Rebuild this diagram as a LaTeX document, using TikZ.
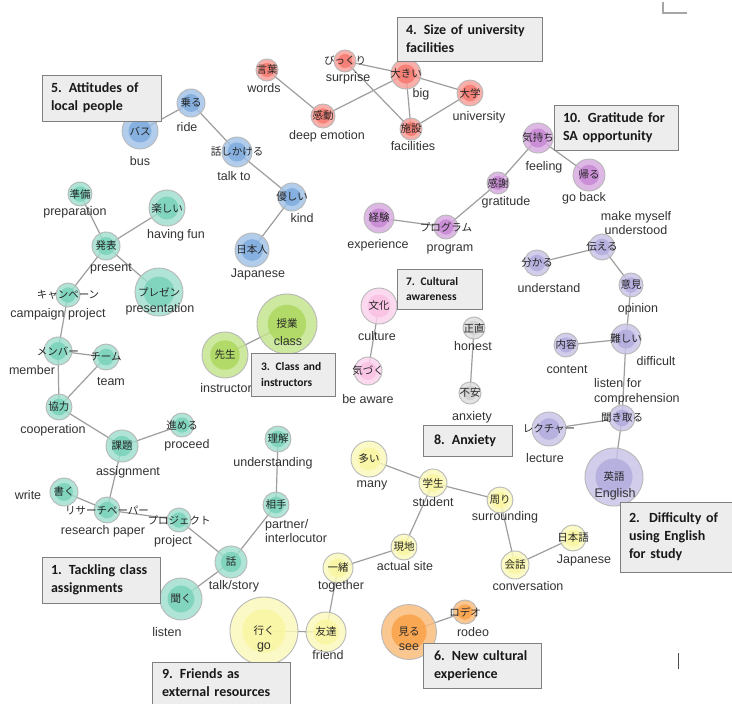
\documentclass[tikz,border=0pt]{standalone}
\usepackage{fontspec}
\setmainfont{Liberation Sans}
\newfontfamily\jpfont{Noto Sans CJK JP}
\newfontfamily\boxfont{Carlito}

\definecolor{cteal}{RGB}{120,210,185}
\definecolor{cblue}{RGB}{125,170,222}
\definecolor{cred}{RGB}{245,120,110}
\definecolor{cpurple}{RGB}{200,135,212}
\definecolor{clav}{RGB}{178,172,222}
\definecolor{cpink}{RGB}{250,192,228}
\definecolor{cgray}{RGB}{208,208,208}
\definecolor{cyellow}{RGB}{250,246,160}
\definecolor{corange}{RGB}{250,160,70}
\definecolor{clime}{RGB}{172,216,92}

\pgfdeclarelayer{edges}
\pgfsetlayers{edges,main}

\tikzset{
  word/.style 2 args={circle, inner sep=0pt, minimum size=#1pt, draw=black!28,
    line width=0.9pt, fill=#2!72, fill opacity=0.82,
    path picture={\fill[#2] (path picture bounding box.center) circle[radius=0.32*#1pt];}},
  jp/.style={font=\jpfont\fontsize{10.5}{12}\selectfont, text=black!85,
    text opacity=1, inner sep=0pt},
  en/.style={font=\fontsize{12.5}{14.5}\selectfont, text=black!80, inner sep=0pt, align=center},
  link/.style={draw=black!38, line width=1.2pt},
  theme/.style={draw=black!50, fill=black!7, line width=0.9pt, inner xsep=9pt,
    inner ysep=0pt, align=left, text=black!90,
    execute at begin node={\hyphenpenalty=10000},
    font=\boxfont\bfseries\fontsize{14}{18}\selectfont},
  smalltheme/.style={theme, font=\boxfont\bfseries\fontsize{11.5}{15.5}\selectfont}
}

\begin{document}
\begin{tikzpicture}[x=1pt,y=-1pt]
\useasboundingbox (0,0) rectangle (732,704);

% 5. attitudes of local people
\node[word={36}{cblue},label={[jp]center:バス}] (bus) at (140,131) {};
\node[word={28}{cblue},label={[jp]center:乗る}] (ride) at (191,103) {};
\node[word={30}{cblue},label={[jp]center:話しかける}] (talkto) at (237,152) {};
\node[word={28}{cblue},label={[jp]center:優しい}] (kind) at (292,197) {};
\node[word={34}{cblue},label={[jp]center:日本人}] (japanese) at (252,250) {};
\node[en] (busL) at (140,161) {bus};
\node[en] (rideL) at (187,127) {ride};
\node[en] (talktoL) at (234,176) {talk to};
\node[en] (kindL) at (302,218) {kind};
\node[en] (japaneseL) at (258,274) {Japanese};

% 4. size of university facilities
\node[word={22}{cred},label={[jp]center:言葉}] (words) at (267,70) {};
\node[word={24}{cred},label={[jp]center:感動}] (emotion) at (323,116) {};
\node[word={22}{cred},label={[jp]center:びっくり}] (surprise) at (345,61) {};
\node[word={30}{cred},label={[jp]center:大きい}] (big) at (406,74) {};
\node[word={26}{cred},label={[jp]center:大学}] (univ) at (470,93) {};
\node[word={22}{cred},label={[jp]center:施設}] (facil) at (411,129) {};
\node[en] (wordsL) at (264,88) {words};
\node[en] (emotionL) at (327,136) {deep emotion};
\node[en] (surpriseL) at (348,78) {surprise};
\node[en] (bigL) at (421,94) {big};
\node[en] (univL) at (479,117) {university};
\node[en] (facilL) at (413,146) {facilities};

% 10. gratitude for SA opportunity
\node[word={30}{cpurple},label={[jp]center:気持ち}] (feeling) at (538,138) {};
\node[word={32}{cpurple},label={[jp]center:帰る}] (goback) at (589,175) {};
\node[word={22}{cpurple},label={[jp]center:感謝}] (gratitude) at (498,183) {};
\node[word={24}{cpurple},label={[jp]center:プログラム}] (program) at (446,227) {};
\node[word={30}{cpurple},label={[jp]center:経験}] (experience) at (379,218) {};
\node[en] (feelingL) at (544,167) {feeling};
\node[en] (gobackL) at (584,198) {go back};
\node[en] (gratitudeL) at (506,202) {gratitude};
\node[en] (programL) at (450,249) {program};
\node[en] (experienceL) at (378,245) {experience};

% 2. difficulty of using English
\node[word={26}{clav},label={[jp]center:伝える}] (convey) at (602,247) {};
\node[word={26}{clav},label={[jp]center:分かる}] (understand) at (537,263) {};
\node[word={24}{clav},label={[jp]center:意見}] (opinion) at (631,285) {};
\node[word={30}{clav},label={[jp]center:難しい}] (difficult) at (626,339) {};
\node[word={24}{clav},label={[jp]center:内容}] (content) at (566,345) {};
\node[word={26}{clav},label={[jp]center:聞き取る}] (listenfor) at (622,418) {};
\node[word={34}{clav},label={[jp]center:レクチャー}] (lecture) at (549,429) {};
\node[word={58}{clav},label={[jp]center:英語}] (english) at (614,477) {};
\node[en] (conveyL) at (636,223) {make myself\\understood};
\node[en] (understandL) at (549,288) {understand};
\node[en] (opinionL) at (638,309) {opinion};
\node[en] (difficultL) at (656,361) {difficult};
\node[en] (contentL) at (567,370) {content};
\node[en,anchor=west,align=left] (listenforL) at (594,392) {listen for\\comprehension};
\node[en] (lectureL) at (545,458) {lecture};
\node[en] (englishL) at (615,494) {English};

% 7. cultural awareness
\node[word={36}{cpink},label={[jp]center:文化}] (culture) at (379,306) {};
\node[word={28}{cpink},label={[jp]center:気づく}] (aware) at (368,371) {};
\node[en] (cultureL) at (377,336) {culture};
\node[en] (awareL) at (368,399) {be aware};

% 8. anxiety
\node[word={22}{cgray},label={[jp]center:正直}] (honest) at (474,328) {};
\node[word={22}{cgray},label={[jp]center:不安}] (anxiety) at (470,393) {};
\node[en] (honestL) at (473,346) {honest};
\node[en] (anxietyL) at (472,417) {anxiety};

% 9. friends as external resources
\node[word={36}{cyellow},label={[jp]center:多い}] (many) at (369,459) {};
\node[word={28}{cyellow},label={[jp]center:学生}] (student) at (433,483) {};
\node[word={26}{cyellow},label={[jp]center:周り}] (surround) at (500,500) {};
\node[word={26}{cyellow},label={[jp]center:現地}] (site) at (404,547) {};
\node[word={28}{cyellow},label={[jp]center:会話}] (convers) at (515,565) {};
\node[word={26}{cyellow},label={[jp]center:日本語}] (nihongo) at (573,538) {};
\node[word={30}{cyellow},label={[jp]center:一緒}] (together) at (338,568) {};
\node[word={40}{cyellow},label={[jp]center:友達}] (friend) at (326,632) {};
\node[word={68}{cyellow},label={[jp]center:行く}] (go) at (264,631) {};
\node[en] (manyL) at (372,485) {many};
\node[en] (studentL) at (433,502) {student};
\node[en] (surroundL) at (505,517) {surrounding};
\node[en] (siteL) at (405,566) {actual site};
\node[en] (conversL) at (528,586) {conversation};
\node[en] (nihongoL) at (584,560) {Japanese};
\node[en] (togetherL) at (341,586) {together};
\node[en] (friendL) at (328,655) {friend};
\node[en] (goL) at (264,647) {go};

% 6. new cultural experience
\node[word={55}{corange},label={[jp]center:見る}] (see) at (409,632) {};
\node[word={24}{corange},label={[jp]center:ロデオ}] (rodeo) at (465,612) {};
\node[en] (seeL) at (409,647) {see};
\node[en] (rodeoL) at (473,632) {rodeo};

% 3. class and instructors
\node[word={46}{clime},label={[jp]center:先生}] (teacher) at (225,355) {};
\node[word={60}{clime},label={[jp]center:授業}] (class) at (287,324) {};
\node[en] (teacherL) at (226,388) {instructor};
\node[en] (classL) at (288,341) {class};

% 1. tackling class assignments
\node[word={24}{cteal},label={[jp]center:準備}] (prep) at (80,194) {};
\node[word={36}{cteal},label={[jp]center:楽しい}] (fun) at (167,208) {};
\node[word={28}{cteal},label={[jp]center:発表}] (present) at (106,246) {};
\node[word={48}{cteal},label={[jp]center:プレゼン}] (presen) at (159,292) {};
\node[word={24}{cteal},label={[jp]center:キャンペーン}] (campaign) at (68,295) {};
\node[word={28}{cteal},label={[jp]center:メンバー}] (member) at (58,351) {};
\node[word={26}{cteal},label={[jp]center:チーム}] (team) at (106,357) {};
\node[word={26}{cteal},label={[jp]center:協力}] (coop) at (59,407) {};
\node[word={24}{cteal},label={[jp]center:進める}] (proceed) at (182,425) {};
\node[word={32}{cteal},label={[jp]center:課題}] (assign) at (122,446) {};
\node[word={28}{cteal},label={[jp]center:書く}] (write) at (64,492) {};
\node[word={26}{cteal},label={[jp]center:リサーチペーパー}] (paper) at (107,510) {};
\node[word={24}{cteal},label={[jp]center:プロジェクト}] (project) at (179,520) {};
\node[word={32}{cteal},label={[jp]center:話}] (talk) at (231,562) {};
\node[word={42}{cteal},label={[jp]center:聞く}] (listen) at (181,599) {};
\node[word={26}{cteal},label={[jp]center:相手}] (partner) at (276,505) {};
\node[word={26}{cteal},label={[jp]center:理解}] (grasp) at (278,439) {};
\node[en] (prepL) at (75,212) {preparation};
\node[en] (funL) at (176,235) {having fun};
\node[en] (presentL) at (111,269) {present};
\node[en] (presenL) at (160,309) {presentation};
\node[en] (campaignL) at (58,314) {campaign project};
\node[en] (memberL) at (32,370) {member};
\node[en] (teamL) at (111,382) {team};
\node[en] (coopL) at (53,430) {cooperation};
\node[en] (proceedL) at (187,445) {proceed};
\node[en] (assignL) at (128,472) {assignment};
\node[en] (writeL) at (28,495) {write};
\node[en] (paperL) at (103,531) {research paper};
\node[en] (projectL) at (173,541) {project};
\node[en] (talkL) at (234,586) {talk/story};
\node[en] (listenL) at (167,632) {listen};
\node[en,anchor=west,align=left] (partnerL) at (265,531) {partner/\\interlocutor};
\node[en] (graspL) at (273,463) {understanding};

% connectors
\begin{pgfonlayer}{edges}
\fill[white] (0,0) rectangle (732,704);
\foreach \a/\b in {bus/ride, ride/talkto, talkto/kind, kind/japanese,
    words/emotion, emotion/big, surprise/big, surprise/facil, big/facil, big/univ, univ/facil,
    experience/program, program/gratitude, gratitude/feeling, feeling/goback,
    understand/convey, convey/opinion, opinion/difficult, content/difficult,
    difficult/listenfor, lecture/listenfor, listenfor/english,
    culture/aware, honest/anxiety,
    many/student, student/surround, student/site, site/together, surround/convers,
    convers/nihongo, together/friend, friend/go,
    see/rodeo, teacher/class,
    prep/present, fun/present, present/presen, present/campaign, campaign/member,
    member/team, member/coop, team/coop, coop/assign, assign/proceed, assign/paper,
    write/paper, paper/project, project/talk, talk/partner, partner/grasp, talk/listen}
  \draw[link] (\a.center) -- (\b.center);
\end{pgfonlayer}

% theme boxes
\node[theme, minimum width=118pt, minimum height=46pt, text width=100pt] (t1) at (101,580) {1. Tackling class\\assignments};
\node[theme, minimum width=112pt, minimum height=70pt, text width=94pt] (t2) at (676,537) {2.\ \ Difficulty of\\using English\\for study};
\node[smalltheme, minimum width=84pt, minimum height=43pt, text width=64pt, inner xsep=10pt] (t3) at (293,374.5) {3. Class and\\instructors};
\node[theme, minimum width=145pt, minimum height=44pt, text width=127pt] (t4) at (469.5,39) {4. Size of university\\facilities};
\node[theme, minimum width=119pt, minimum height=46pt, text width=101pt] (t5) at (101.5,98) {5. Attitudes of\\local people};
\node[theme, minimum width=118pt, minimum height=45pt, text width=96pt, inner xsep=11pt] (t6) at (482,665.5) {6. New cultural\\experience};
\node[smalltheme, minimum width=85pt, minimum height=40pt, text width=67pt] (t7) at (439.5,289) {7. Cultural\\awareness};
\node[theme, minimum width=89pt, minimum height=31pt, text width=67pt, inner xsep=11pt] (t8) at (467.5,440.5) {8. Anxiety};
\node[theme, minimum width=138pt, minimum height=42pt, text width=118pt, inner xsep=10pt] (t9) at (221,683) {9. Friends as\\external resources};
\node[theme, minimum width=124pt, minimum height=45pt, text width=106pt] (t10) at (616,127.5) {10. Gratitude for\\SA opportunity};

% marks at the edge
\draw[black!35, line width=1.2pt] (663,2) -- (663,13) -- (687,13);
\draw[black!70, line width=1pt] (678,653) -- (678,669);
\end{tikzpicture}
\end{document}
